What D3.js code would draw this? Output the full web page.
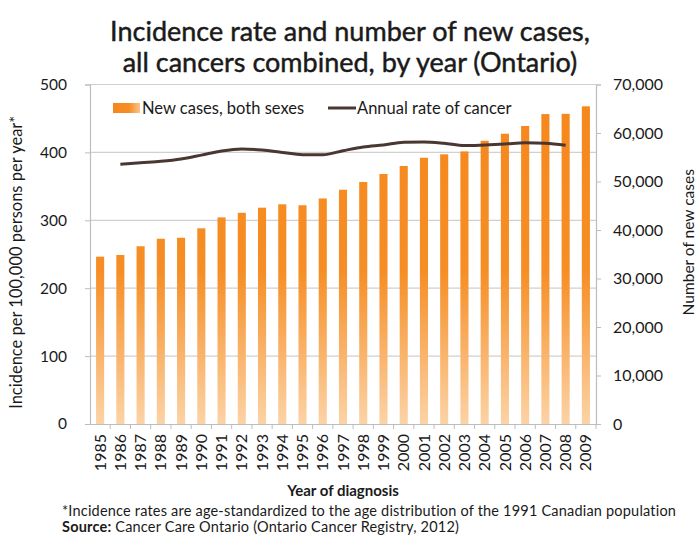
<!DOCTYPE html>
<html>
<head>
<meta charset="utf-8">
<script src="https://cdn.jsdelivr.net/npm/d3@7"></script>
<style>
  html, body { margin: 0; padding: 0; background: #fff; }
  svg { display: block; font-family: Lato, "Open Sans", sans-serif; }
</style>
</head>
<body>
<svg id="chart" width="700" height="537"></svg>
<script>
const years = ["1985","1986","1987","1988","1989","1990","1991","1992","1993","1994","1995","1996","1997","1998","1999","2000","2001","2002","2003","2004","2005","2006","2007","2008","2009"];
const newCases = [34500, 34850, 36650, 38200, 38400, 40350, 42600, 43550, 44600, 45300, 45100, 46500, 48300, 49900, 51550, 53200, 54900, 55600, 56200, 58400, 59850, 61450, 63900, 63950, 65500];
const annualRate = [null, 382.5, 384.8, 386.9, 390.3, 396, 402, 405, 403.5, 400, 396.6, 396.6, 402.5, 408, 411, 414.8, 415.5, 413.4, 410, 411, 412.4, 414.3, 413.4, 410.5, null];
const leftTicks = [0, 100, 200, 300, 400, 500];
const rightTicks = [0, 10000, 20000, 30000, 40000, 50000, 60000, 70000];

const titleLines = ["Incidence rate and number of new cases,", "all cancers combined, by year (Ontario)"];

const svg = d3.select("#chart");
const L = 90, R = 596, T = 84.5, B = 424;
const ink = "#1a1a1a";

const x = d3.scaleBand().domain(years).range([L, R]).paddingInner(0.6).paddingOuter(0.3);
const yL = d3.scaleLinear().domain([0, 500]).range([B, T]);
const yR = d3.scaleLinear().domain([0, 70000]).range([B, T]);

// gradients
const defs = svg.append("defs");
const g1 = defs.append("linearGradient").attr("id", "barGrad")
  .attr("gradientUnits", "userSpaceOnUse").attr("x1", 0).attr("x2", 0).attr("y1", T).attr("y2", B);
g1.append("stop").attr("offset", "0%").attr("stop-color", "#f5871c");
g1.append("stop").attr("offset", "55%").attr("stop-color", "#f68e25");
g1.append("stop").attr("offset", "100%").attr("stop-color", "#fcd3a6");
const g2 = defs.append("linearGradient").attr("id", "legGrad").attr("x1", 0).attr("y1", 0).attr("x2", 1).attr("y2", 0);
g2.append("stop").attr("offset", "0%").attr("stop-color", "#f5871c");
g2.append("stop").attr("offset", "60%").attr("stop-color", "#f68e25");
g2.append("stop").attr("offset", "100%").attr("stop-color", "#fbc48c");

// title
svg.append("g").selectAll("text").data(titleLines).join("text")
  .attr("x", 350).attr("y", (d, i) => 41 + i * 31)
  .attr("text-anchor", "middle").attr("font-size", 27).attr("fill", ink)
  .attr("stroke", ink).attr("stroke-width", 0.45)
  .text(d => d);

// gridlines
svg.append("g").selectAll("line").data(leftTicks.filter(d => d > 0)).join("line")
  .attr("x1", L).attr("x2", R).attr("y1", d => yL(d)).attr("y2", d => yL(d))
  .attr("stroke", "#d0d0d0").attr("stroke-width", 1.2);

// bars
svg.append("g").selectAll("rect").data(years).join("rect")
  .attr("x", d => x(d)).attr("width", x.bandwidth())
  .attr("y", (d, i) => yR(newCases[i])).attr("height", (d, i) => B - yR(newCases[i]))
  .attr("fill", "url(#barGrad)");

// line
const line = d3.line()
  .defined(d => d.v != null)
  .x(d => x(d.year) + x.bandwidth() / 2)
  .y(d => yL(d.v))
  .curve(d3.curveMonotoneX);
svg.append("path").datum(years.map((y, i) => ({ year: y, v: annualRate[i] })))
  .attr("d", line).attr("fill", "none").attr("stroke", "#4a3732").attr("stroke-width", 3);

// left axis
const axL = svg.append("g").attr("transform", `translate(${L},0)`)
  .call(d3.axisLeft(yL).tickValues(leftTicks).tickSize(5).tickPadding(18).tickFormat(d3.format("d")));
axL.select(".domain").attr("stroke", "#bdbdbd").attr("stroke-width", 1.2);
axL.selectAll(".tick line").attr("stroke", "#bdbdbd");
axL.selectAll("text").attr("font-size", 15.5).attr("fill", ink).attr("font-family", "Lato, sans-serif");

// right axis
const axR = svg.append("g").attr("transform", `translate(${R},0)`)
  .call(d3.axisRight(yR).tickValues(rightTicks).tickSize(5).tickPadding(12).tickFormat(d3.format(",")));
axR.select(".domain").attr("stroke", "#bdbdbd").attr("stroke-width", 1.2);
axR.selectAll(".tick line").attr("stroke", "#bdbdbd");
axR.selectAll("text").attr("font-size", 16).attr("fill", ink).attr("font-family", "Lato, sans-serif");

// bottom axis
const axB = svg.append("g").attr("transform", `translate(0,${B})`)
  .call(d3.axisBottom(x).tickSize(0).tickPadding(0));
axB.select(".domain").attr("stroke", "#bdbdbd").attr("stroke-width", 1.2);
axB.selectAll(".tick text")
  .attr("transform", "rotate(-90)")
  .attr("text-anchor", "end").attr("x", -10).attr("y", 0).attr("dy", "0.35em")
  .attr("font-size", 16).attr("fill", ink).attr("font-family", "Lato, sans-serif");
const bounds = years.map(y => x(y) - x.step() * x.paddingInner() / 2).slice(1).concat([R]);
svg.append("g").selectAll("line").data(bounds).join("line")
  .attr("x1", d => d).attr("x2", d => d).attr("y1", B).attr("y2", B + 5)
  .attr("stroke", "#bdbdbd");

// axis titles
svg.append("text").attr("transform", `translate(22,${(T + B) / 2 + 8}) rotate(-90)`)
  .attr("text-anchor", "middle").attr("font-size", 16.5).attr("fill", ink)
  .text("Incidence per 100,000 persons per year*");
svg.append("text").attr("transform", `translate(694,${(T + B) / 2 - 12}) rotate(-90)`)
  .attr("text-anchor", "middle").attr("font-size", 15.5).attr("fill", ink)
  .text("Number of new cases");
svg.append("text").attr("x", 343).attr("y", 496)
  .attr("text-anchor", "middle").attr("font-size", 15).attr("font-weight", "bold").attr("fill", ink)
  .text("Year of diagnosis");

// legend
const lg = svg.append("g");
lg.append("rect").attr("x", 113).attr("y", 103).attr("width", 27).attr("height", 10).attr("fill", "url(#legGrad)");
lg.append("text").attr("x", 142).attr("y", 114).attr("font-size", 16.5).attr("fill", ink).text("New cases, both sexes");
lg.append("line").attr("x1", 328).attr("x2", 356).attr("y1", 108).attr("y2", 108).attr("stroke", "#4a3732").attr("stroke-width", 3);
lg.append("text").attr("x", 357).attr("y", 114).attr("font-size", 16.5).attr("fill", ink).text("Annual rate of cancer");

// footnotes
svg.append("text").attr("x", 62).attr("y", 516).attr("font-size", 14.5).attr("letter-spacing", 0.2).attr("fill", ink)
  .text("*Incidence rates are age-standardized to the age distribution of the 1991 Canadian population");
const src = svg.append("text").attr("x", 62).attr("y", 532).attr("font-size", 14.5).attr("letter-spacing", 0.2).attr("fill", ink);
src.append("tspan").attr("font-weight", "bold").text("Source:");
src.append("tspan").text(" Cancer Care Ontario (Ontario Cancer Registry, 2012)");
</script>
</body>
</html>
